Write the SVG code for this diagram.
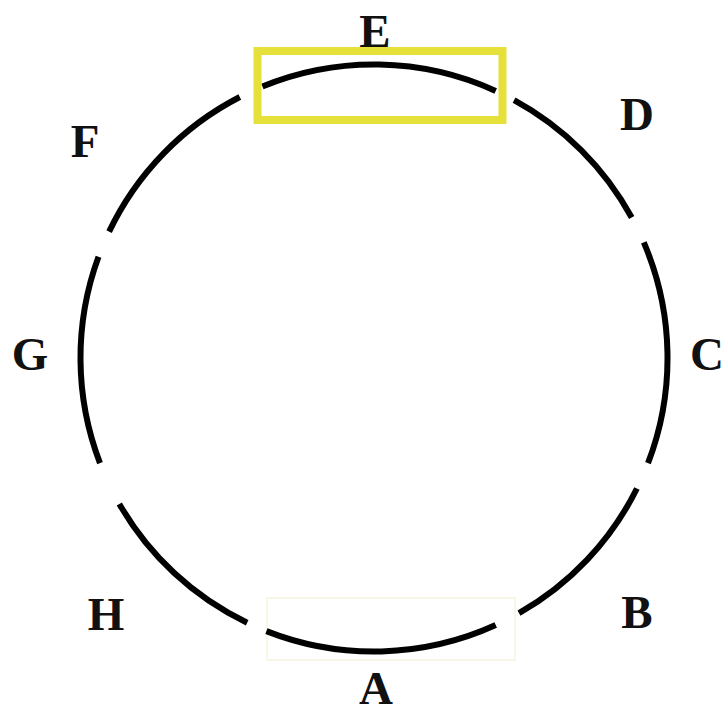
<svg xmlns="http://www.w3.org/2000/svg" width="723" height="720" viewBox="0 0 723 720">
  <style>
    .arc { fill: none; stroke: #000; stroke-width: 6; stroke-linecap: butt; }
    .lbl { font-family: "Liberation Serif", "Times New Roman", serif; font-weight: bold; font-size: 47px; fill: #111; text-anchor: middle; }
    .hl { fill: none; stroke: #e6e13a; stroke-width: 8; }
    .faint { fill: none; stroke: #f8f7e6; stroke-width: 2; }
  </style>
  <rect width="723" height="720" fill="#fff"/>
  <g id="highlights">
    <rect class="faint" x="267" y="598" width="248" height="62"/>
  </g>
  <g id="segments">
    <g id="seg-E"><path class="arc" d="M262.4,86.5 A293.5,293.5 0 0 1 495.7,90.9"/></g>
    <g id="seg-D"><path class="arc" d="M514.1,100.1 A293.5,293.5 0 0 1 631.7,217.5"/></g>
    <g id="seg-C"><path class="arc" d="M643.8,242.4 A293.5,293.5 0 0 1 648.0,463.2"/></g>
    <g id="seg-B"><path class="arc" d="M636.9,488.5 A293.5,293.5 0 0 1 519.0,613.2"/></g>
    <g id="seg-A"><path class="arc" d="M495.7,625.1 A293.5,293.5 0 0 1 266.4,631.1"/></g>
    <g id="seg-H"><path class="arc" d="M247.2,622.7 A293.5,293.5 0 0 1 119.3,503.9"/></g>
    <g id="seg-G"><path class="arc" d="M100.0,463.2 A293.5,293.5 0 0 1 98.5,256.7"/></g>
    <g id="seg-F"><path class="arc" d="M109.1,231.6 A293.5,293.5 0 0 1 239.8,97.0"/></g>
  </g>
  <g id="box-E">
    <rect class="hl" x="257.5" y="51" width="245" height="69"/>
  </g>
  <g id="labels">
    <g id="label-E"><text class="lbl" x="375" y="47">E</text></g>
    <g id="label-D"><text class="lbl" x="637" y="130">D</text></g>
    <g id="label-C"><text class="lbl" x="707" y="370">C</text></g>
    <g id="label-B"><text class="lbl" x="637" y="628">B</text></g>
    <g id="label-A"><text class="lbl" x="376" y="704">A</text></g>
    <g id="label-H"><text class="lbl" x="106" y="630">H</text></g>
    <g id="label-G"><text class="lbl" x="30" y="370">G</text></g>
    <g id="label-F"><text class="lbl" x="85" y="157">F</text></g>
  </g>
</svg>
